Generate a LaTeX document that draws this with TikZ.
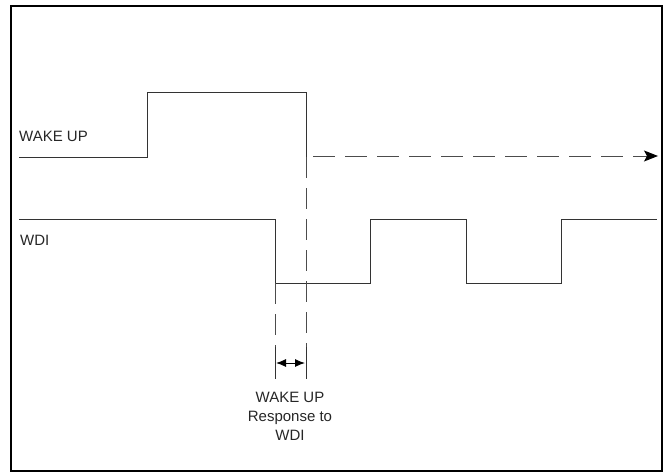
\documentclass[tikz,border=0pt]{standalone}
\usepackage{fontspec}
\setmainfont{Liberation Sans}
\usetikzlibrary{arrows.meta}
\tikzset{
  sig/.style={line width=1pt, draw=black!80},
  guide/.style={line width=1pt, draw=black!70, dash pattern=on 21pt off 10pt},
  lbl/.style={inner sep=0pt, font=\fontsize{15}{19}\selectfont, text=black!85},
}
\begin{document}
\begin{tikzpicture}[x=1pt,y=-1pt]
\useasboundingbox (0,0) rectangle (669,476);
  \draw[line width=2pt] (11,6) rectangle (662,471);
  % WAKE UP line
  \coordinate (wrise) at (147,157);
  \coordinate (wfall) at (306,157);
  \draw[sig] (19,157) -- (wrise) -- (147,93) -- (306,93) -- (wfall);
  \draw[guide, dash pattern=on 22pt off 10pt, -{Stealth[length=14pt,width=11pt,inset=3pt,black]}] (313,156) -- (658,156);
  % WDI line
  \coordinate (dfall) at (275,283);
  \draw[sig] (19,219) -- (275,219) -- (dfall) -- (370,283) -- (370,219)
    -- (466,219) -- (466,283) -- (561,283) -- (561,219) -- (657,219);
  % response time
  \draw[guide] (wfall) -- (306,347);
  \draw[guide] (dfall) -- (275,347);
  \foreach \xx in {275,306}
    \draw[sig] (\xx,347) -- (\xx,379);
  \draw[line width=1pt, {Latex[length=10pt,width=8pt,black]}-{Latex[length=10pt,width=8pt,black]}] (276,363) -- (305,363);
  \node[lbl, anchor=west] (wake) at (19,136) {WAKE UP};
  \node[lbl, anchor=west] (wdi) at (20,240) {WDI};
  \node[lbl, align=center] (resp) at (290,416) {WAKE UP\\Response to\\WDI};
\end{tikzpicture}
\end{document}
